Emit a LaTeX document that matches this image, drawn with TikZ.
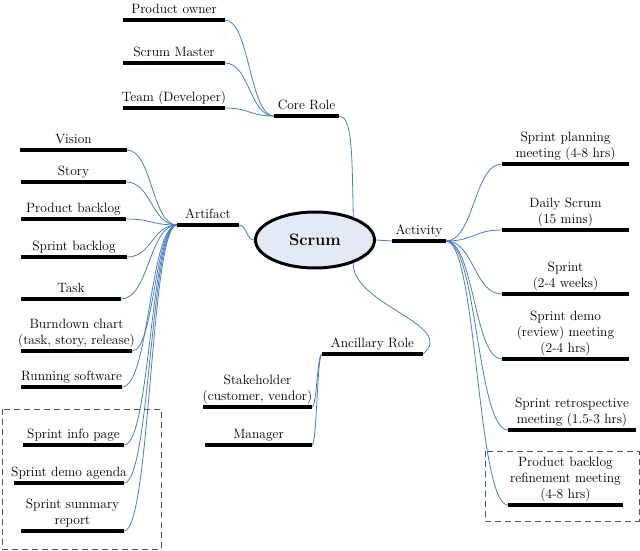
\documentclass[tikz,border=0pt]{standalone}
\usetikzlibrary{shapes.geometric,calc,backgrounds}
\definecolor{linkblue}{HTML}{4A7EC7}
\definecolor{scrumfill}{HTML}{E4EAF5}
\definecolor{grpgray}{HTML}{555555}
\tikzset{
  bar/.style={line width=3.5pt},
  lbl/.style={anchor=south, inner sep=0pt, align=center, text depth=3pt,
    font=\rmfamily\fontsize{13.5}{16}\selectfont},
  linkc/.style={draw=linkblue, line width=0.8pt},
  link/.style={linkc, to path={let \p1=(\tikztostart), \p2=(\tikztotarget) in
    .. controls ({(\x1+\x2)/2},\y1) and ({(\x1+\x2)/2},\y2) .. (\tikztotarget)}},
  grp/.style={draw=grpgray, dash pattern=on 6pt off 4pt, line width=1pt},
  hub/.style={ellipse, draw, line width=3pt, fill=scrumfill,
    minimum width=119pt, minimum height=56pt,
    font=\rmfamily\bfseries\fontsize{16.5}{19}\selectfont},
}
\newcommand\topic[5]{%
  \coordinate (#1-l) at (#2,#4);
  \coordinate (#1-r) at (#3,#4);
  \draw[bar] (#1-l) -- (#1-r);
  \node[lbl] (#1) at ({(#2+#3)/2},{#4-3}) {#5};
}
\begin{document}
\begin{tikzpicture}[x=1pt,y=-1pt]
\useasboundingbox (0,0) rectangle (640,551);
\node[hub] (scrum) at (315,240) {Scrum};
% core role
\topic{po}{123}{225}{20}{Product owner}
\topic{sm}{123}{225}{63}{Scrum Master}
\topic{team}{123}{225}{108}{Team (Developer)}
\topic{core}{274}{339}{116}{Core Role}
% artifact
\topic{art}{177}{239}{225}{Artifact}
\topic{vision}{20}{127}{150}{Vision}
\topic{story}{21}{126}{182}{Story}
\topic{pbl}{21}{126}{219}{Product backlog}
\topic{sbl}{21}{127}{257}{Sprint backlog}
\topic{task}{21}{121}{299}{Task}
\topic{burn}{21}{132}{351}{Burndown chart\\(task, story, release)}
\topic{run}{21}{122}{387}{Running software}
\topic{info}{23}{124}{445}{Sprint info page}
\topic{dagenda}{14}{124}{483}{Sprint demo agenda}
\topic{summary}{21}{124}{531}{Sprint summary\\report}
% activity
\topic{act}{392}{446}{241}{Activity}
\topic{plan}{502}{629}{164}{Sprint planning\\meeting (4-8 hrs)}
\topic{daily}{502}{629}{230}{Daily Scrum\\(15 mins)}
\topic{sprint}{502}{629}{294}{Sprint\\(2-4 weeks)}
\topic{demo}{502}{629}{359}{Sprint demo\\(review) meeting\\(2-4 hrs)}
\topic{retro}{508}{636}{430}{Sprint retrospective\\meeting (1.5-3 hrs)}
\topic{refine}{508}{623}{505}{Product backlog\\refinement meeting\\(4-8 hrs)}
% ancillary
\topic{anc}{322}{423}{354}{Ancillary Role}
\topic{stake}{203}{312}{407}{Stakeholder\\(customer, vendor)}
\topic{mgr}{205}{312}{445}{Manager}
% groups
\draw[grp] (2,409) rectangle (161,549);
\draw[grp] (485,451) rectangle (639,521);
\begin{scope}[on background layer]
  \foreach \c in {po,sm,team} \draw[link] (\c-r) to (core-l);
  \draw[linkc] (core-r) .. controls (352,116) and (352,150) .. (scrum.31);
  \foreach \c in {vision,story,pbl,sbl,task,burn,run,info,dagenda,summary}
    \draw[link] (\c-r) to (art-l);
  \draw[link] (art-r) to (scrum.west);
  \draw[linkc] (scrum.east) -- (act-l);
  \foreach \c in {plan,daily,sprint,demo,retro,refine}
    \draw[link] (act-r) to (\c-l);
  \draw[linkc] (scrum.-31) .. controls (352,305) and (458,325) .. (anc-r);
  \foreach \c in {stake,mgr} \draw[link] (anc-l) to (\c-r);
\end{scope}
\end{tikzpicture}
\end{document}
